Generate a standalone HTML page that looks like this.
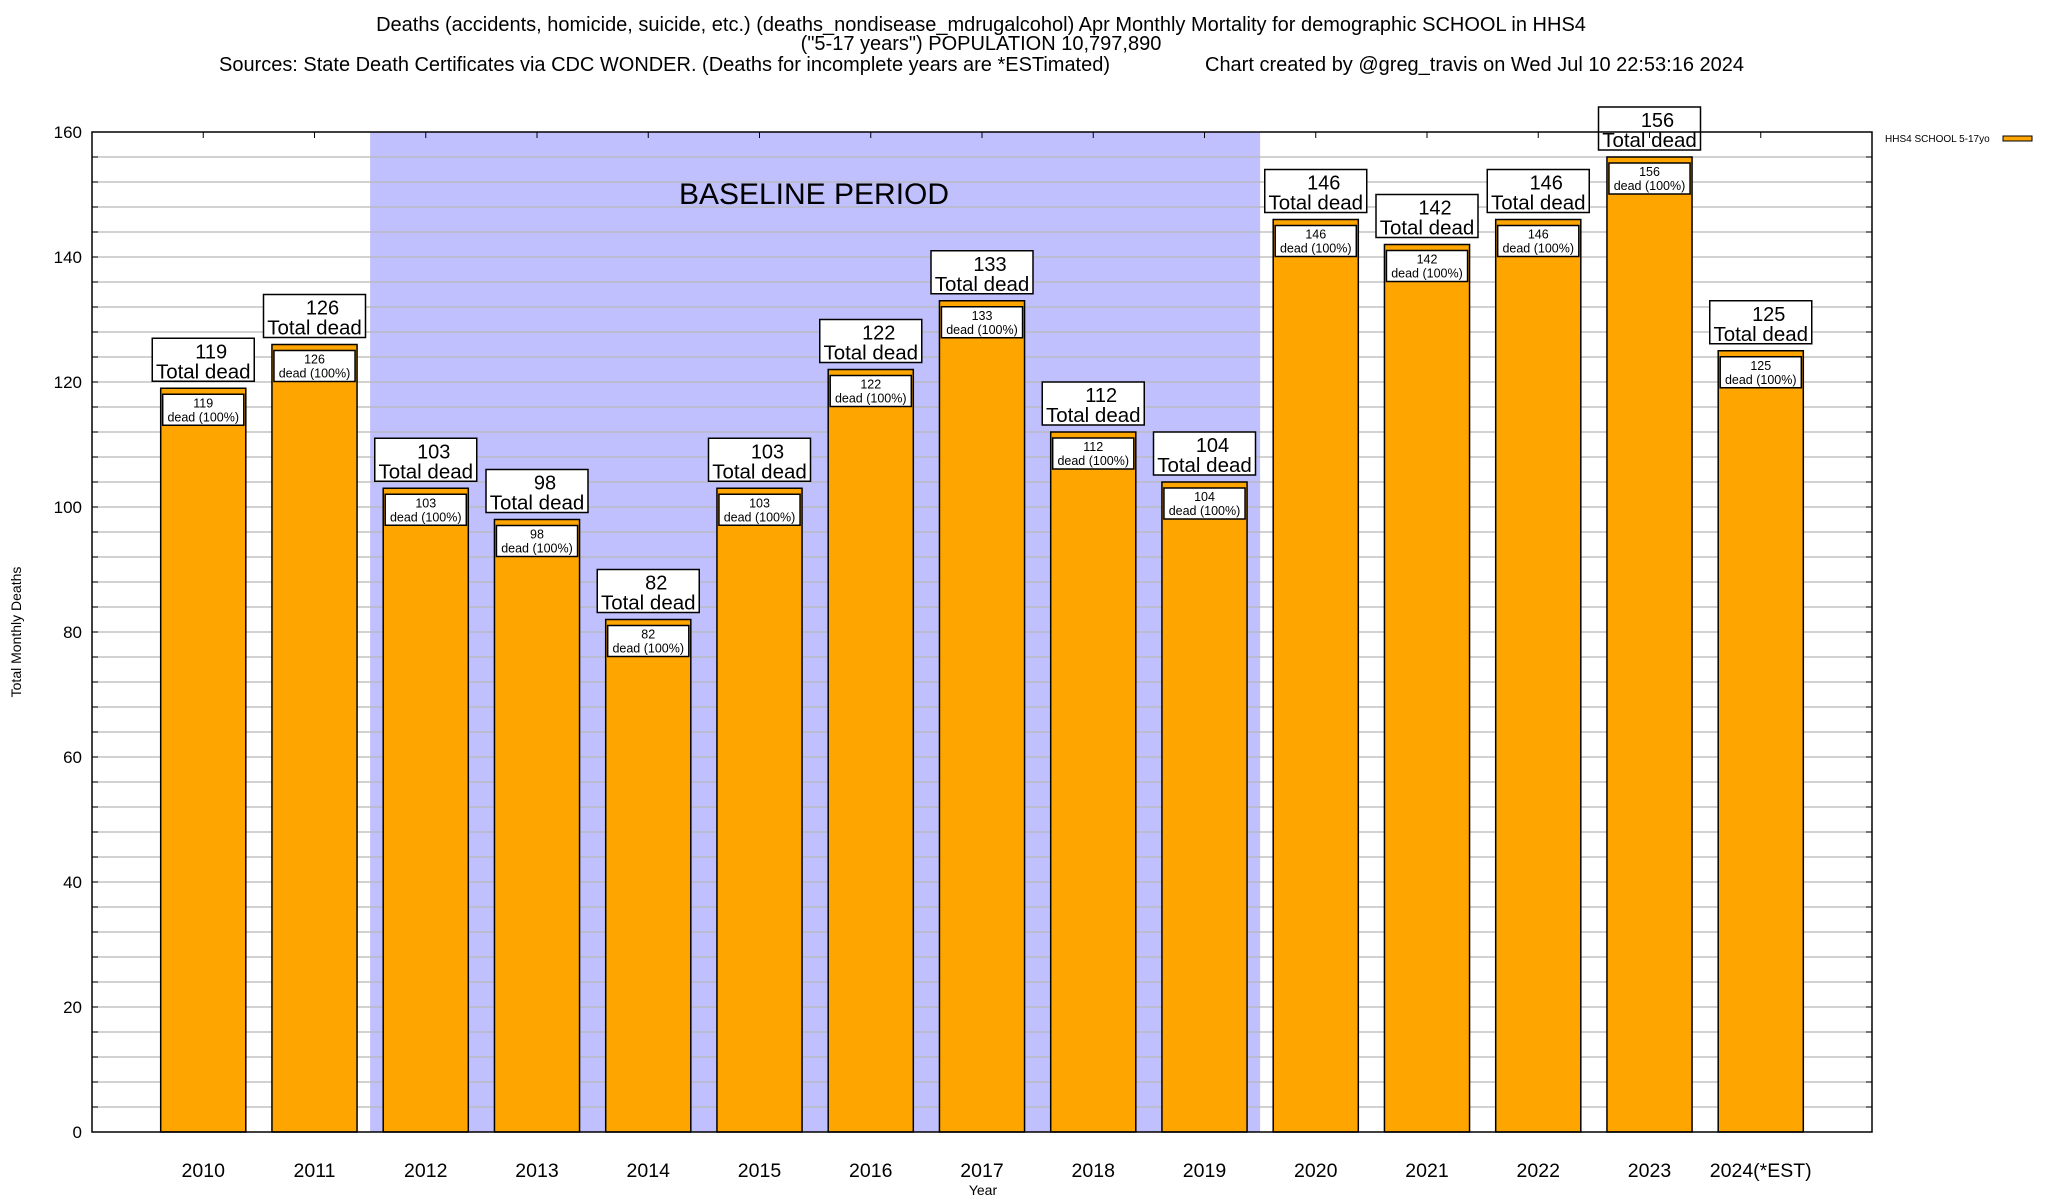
<!DOCTYPE html>
<html><head><meta charset="utf-8"><style>
body{margin:0;background:#fff;}
svg{display:block;font-family:"Liberation Sans",sans-serif;}
</style></head><body>
<svg id="chart" width="2048" height="1200" xmlns="http://www.w3.org/2000/svg">
<g font-size="20" fill="#000">
<text x="981" y="31" text-anchor="middle">Deaths (accidents, homicide, suicide, etc.) (deaths_nondisease_mdrugalcohol) Apr Monthly Mortality for demographic SCHOOL in HHS4</text>
<text x="981" y="50" text-anchor="middle">("5-17 years") POPULATION 10,797,890</text>
<text x="219" y="71" textLength="891" lengthAdjust="spacingAndGlyphs">Sources: State Death Certificates via CDC WONDER. (Deaths for incomplete years are *ESTimated)</text>
<text x="1205" y="71" textLength="539" lengthAdjust="spacingAndGlyphs">Chart created by @greg_travis on Wed Jul 10 22:53:16 2024</text>
</g>
<g id="plot"></g>
<text transform="translate(21,632) rotate(-90)" font-size="14" text-anchor="middle">Total Monthly Deaths</text>
<text x="983" y="1195" font-size="14" text-anchor="middle">Year</text>
<g>
<text x="1885" y="142" font-size="10">HHS4 SCHOOL 5-17yo</text>
<rect x="2003" y="136" width="29" height="5" fill="#ffa500" stroke="#000" stroke-width="1"/>
</g>
</svg>
<script>
const categories=["2010","2011","2012","2013","2014","2015","2016","2017","2018","2019","2020","2021","2022","2023","2024(*EST)"];
const values=[119,126,103,98,82,103,122,133,112,104,146,142,146,156,125];
const yTicks=[0,20,40,60,80,100,120,140,160];
const baselineStart=1.5, baselineEnd=9.5;
const L=92,T=132,R=1872,B=1132,yMax=160;
const step=(R-L)/(categories.length+1);
const x=i=>L+step*(i+1);
const y=v=>B-(v/yMax)*(B-T);
const NS="http://www.w3.org/2000/svg";
const g=document.getElementById('plot');
function mk(tag,attrs,parent){const e=document.createElementNS(NS,tag);for(const k in attrs)e.setAttribute(k,attrs[k]);(parent||g).appendChild(e);return e;}
const sh=mk('rect',{x:x(baselineStart),y:T,width:x(baselineEnd)-x(baselineStart),height:B-T,fill:'#c0c0ff'});


for(let v=4;v<yMax;v+=4){
 const ln=mk('line',{x1:L,x2:R,y1:y(v),y2:y(v),stroke:'#b8b8b8','stroke-width':1.3});
 
 
 const tk1=mk('line',{x1:L,x2:L+6,y1:y(v),y2:y(v),stroke:'#000'});
 
 
 const tk2=mk('line',{x1:R,x2:R-6,y1:y(v),y2:y(v),stroke:'#000'});
 
 
}
yTicks.forEach(v=>{
 const t=mk('text',{x:L-10,y:y(v)+6,'font-size':17,'text-anchor':'end'});
 t.textContent=v;
 
 
});
const bt=mk('text',{x:814,y:204,'font-size':30,'text-anchor':'middle'});
bt.textContent='BASELINE PERIOD';


const bw=step*0.765;
categories.forEach((c,i)=>{
 const cx=x(i),v=values[i];
 const b=mk('rect',{x:cx-bw/2,y:y(v),width:bw,height:B-y(v),fill:'#ffa500',stroke:'#000','stroke-width':1.5});
 
 
 const ib=mk('rect',{x:cx-bw/2+2,y:y(v)+6,width:bw-4,height:31,fill:'#fff',stroke:'#000','stroke-width':1.5});
 
 
 const t1=mk('text',{x:cx,y:y(v)+19,'font-size':12.5,'text-anchor':'middle'});
 t1.textContent=v;
 
 
 const t2=mk('text',{x:cx,y:y(v)+33,'font-size':12.5,'text-anchor':'middle'});
 t2.textContent='dead (100%)';
 
 
 const ob=mk('rect',{x:cx-51,y:y(v)-50,width:102,height:43,fill:'#fff',stroke:'#000','stroke-width':1.5});
 
 
 const o1=mk('text',{x:cx+8,y:y(v)-30,'font-size':20,'text-anchor':'middle'});
 o1.textContent=v;
 
 
 const o2=mk('text',{x:cx,y:y(v)-10,'font-size':20.5,'text-anchor':'middle'});
 o2.textContent='Total dead';
 
 
 const xl=mk('text',{x:cx,y:1177,'font-size':19.5,'text-anchor':'middle'});
 xl.textContent=c;
 
 
 const xt=mk('line',{x1:cx,x2:cx,y1:T,y2:T+6,stroke:'#000'});
 
 
});
const fr=mk('rect',{x:L,y:T,width:R-L,height:B-T,fill:'none',stroke:'#000','stroke-width':1.5});


</script>
</body></html>
